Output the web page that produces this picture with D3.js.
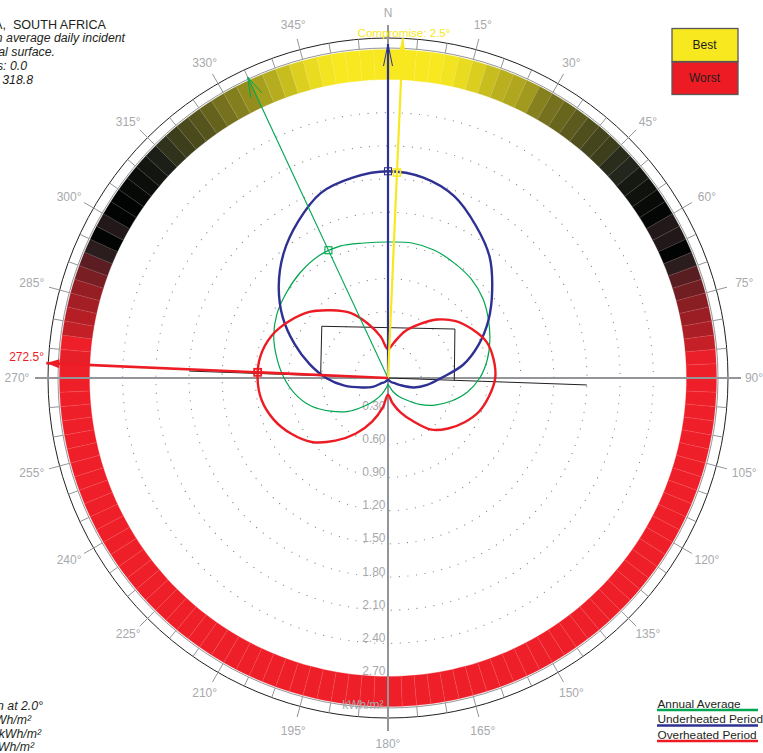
<!DOCTYPE html>
<html><head><meta charset="utf-8">
<script src="https://cdn.jsdelivr.net/npm/d3@7"></script>
<style>html,body{margin:0;padding:0;background:#fff;overflow:hidden}svg{display:block}text{font-family:"Liberation Sans",Arial,sans-serif;font-size:12px;white-space:pre}</style>
</head><body><div id="c"></div>
<script>
// Data (angles in compass degrees, radial values in kWh/m2)
const curveAngles = d3.range(0, 360, 10);
const annualAverage = [1.23,1.24,1.23,1.20,1.17,1.12,1.05,.98,.91,.83,.73,.61,.49,.37,.26,.19,.13,.08,.06,.09,.15,.23,.33,.47,.60,.74,.85,.94,1.02,1.10,1.16,1.20,1.24,1.27,1.27,1.24];
const underheated = [1.87,1.84,1.75,1.59,1.43,1.23,1.05,.87,.69,.48,.36,.25,.13,.07,.05,.03,.02,.02,.02,.02,.02,.03,.05,.07,.16,.25,.40,.56,.72,.90,1.10,1.29,1.47,1.63,1.78,1.84];
const overheated = [.26,.33,.45,.56,.69,.80,.88,.95,.97,.97,.93,.88,.80,.71,.61,.45,.33,.23,.15,.27,.42,.58,.74,.90,1.01,1.10,1.16,1.18,1.17,1.12,1.03,.93,.80,.68,.52,.38];
// Relative score per 2.5 degree sector: 1 best, 0 worst
const bandScores = [
1,1,1,1,.99,.97,.94,.90,.87,.85,.82,.76,.724,.696,.67,.643,.622,.605,.567,.55,.53,.52,.51,.503,.46,.46,.5,.45,.35,.29,.235,.195,.155,.097,
.01,0,0,0,0,0,0,0,0,0,0,0,0,0,0,0,0,0,0,0,0,0,0,0,0,0,0,0,0,0,0,0,0,0,0,0,0,0,0,0,0,
0,0,0,0,0,0,0,0,0,0,0,0,0,0,0,0,0,0,0,0,0,0,0,0,0,0,0,0,0,0,0,0,0,0,
.02,0,.1,.13,.175,.21,.27,.34,.45,.5,.46,.5,.5,.507,.515,.525,.54,.577,.605,.633,.656,.69,.724,.754,.79,.83,.86,.9,.943,.97,.99,1,1,1,1];
const radialTicks = [.30,.60,.90,1.20,1.50,1.80,2.10,2.40,2.70];
const compassTicks = d3.range(0, 360, 5);
const compassLabels = d3.range(15, 360, 15);
const headings = [
  {name:"best", angle:2.5, value:1.86},
  {name:"under", angle:0, value:1.87},
  {name:"annual", angle:335, value:1.275},
  {name:"over", angle:272.5, value:1.18}
];
// Building outline as [compass angle, value]
const buildingOutline = [[308,.76],[53.8,.75],[92,.60]];
const buildingLeft = [[308,.76],[273.4,.61]];
const buildingAxis = [[272,1.80],[92,1.80]];
const infoTop = ["PRETORIA,  SOUTH AFRICA","Orientation based on average daily incident","radiation on a vertical surface.","Shadows: 0.0","Value: 318.8"];
const infoTopRight = [106,125,55,27,33];
const infoBottom = ["Orientation at 2.0°","kWh/m²","kWh/m²","kWh/m²"];
const infoBottomRight = [43,31,41,34];
const legendLines = ["Annual Average","Underheated Period","Overheated Period"];

const W=763,H=753,cx=388,cy=378;
const GREEN="#00a651",BLUE="#2e3192",RED="#ed1c24",YELLOW="#f7e820",GRAY="#939598",LABEL="#a7a9ac",INK="#231f20";
const R_OUT=340,R_GRAY=330,R_BAND_O=328.5,R_BAND_I=298.5;
const r=d3.scaleLinear().domain([0,2.7]).range([0,298.5]);
const rad=d=>d*Math.PI/180;
const bandColor=d3.scaleLinear().domain([0,.45,.5,.55,1]).range(["#ef1f29","#2b1d1e","#020403","#23261c","#f7e820"]);
const pt=(a,v)=>d3.pointRadial(rad(a),v);

const svg=d3.select("#c").append("svg").attr("width",W).attr("height",H).attr("viewBox",`0 0 ${W} ${H}`);
svg.append("rect").attr("width",W).attr("height",H).attr("fill","#fff");
const g=svg.append("g").attr("transform",`translate(${cx},${cy})`);

// Sector band
const arc=d3.arc().innerRadius(R_BAND_I).outerRadius(R_BAND_O);
g.append("g").selectAll("path").data(bandScores).join("path")
 .attr("d",(d,i)=>arc({startAngle:rad(i*2.5),endAngle:rad((i+1)*2.5)}))
 .attr("fill",d=>bandColor(d)).attr("stroke",d=>bandColor(d)).attr("stroke-width",.3);
g.append("g").selectAll("line").data(bandScores).join("line")
 .each(function(d,i){const a=pt(i*2.5,R_BAND_I),b=pt(i*2.5,R_BAND_O);
   d3.select(this).attr("x1",a[0]).attr("y1",a[1]).attr("x2",b[0]).attr("y2",b[1]);})
 .attr("stroke","#fff").attr("stroke-opacity",.16).attr("stroke-width",.7);

// Rings
g.append("circle").attr("r",R_OUT).attr("fill","none").attr("stroke",INK).attr("stroke-width",1);
g.append("circle").attr("r",R_GRAY).attr("fill","none").attr("stroke",GRAY).attr("stroke-width",1);
g.append("g").selectAll("circle").data(radialTicks.slice(0,-1)).join("circle")
 .attr("r",d=>r(d)).attr("fill","none").attr("stroke","#808285").attr("stroke-width",1.15).attr("stroke-linecap","round").attr("stroke-dasharray","0.1 8.5");

// Ticks
g.append("g").selectAll("line").data(compassTicks.filter(d=>d%90!==0)).join("line")
 .each(function(d){const major=d%15===0;const a=pt(d,R_GRAY),b=pt(d,major?351:R_OUT);
   d3.select(this).attr("x1",a[0]).attr("y1",a[1]).attr("x2",b[0]).attr("y2",b[1]);})
 .attr("stroke",GRAY).attr("stroke-width",1);
// Main axes
g.append("line").attr("x1",-353).attr("x2",353).attr("stroke",GRAY).attr("stroke-width",2);
g.append("line").attr("y1",-353).attr("y2",353).attr("stroke",GRAY).attr("stroke-width",2);

// Compass labels: pushed slightly toward the horizontal on the diagonals
const labelPos=d=>{
  const a=rad(d),s=Math.sin(2*a);
  const p=pt(d,d===90?366:d===270?371:366+3*Math.sin(a)*Math.sin(a));
  return [p[0],p[1]+(Math.cos(a)>0?1:-1)*3.5*s*s];
};
g.append("g").selectAll("text").data(compassLabels).join("text")
 .attr("x",d=>labelPos(d)[0]).attr("y",d=>labelPos(d)[1])
 .attr("text-anchor","middle").attr("dominant-baseline","central").attr("fill",LABEL).text(d=>d+"°");
g.append("text").attr("x",0).attr("y",-365).attr("text-anchor","middle").attr("dominant-baseline","central").attr("fill",LABEL).text("N");

// Radial labels
g.append("g").selectAll("text").data(radialTicks).join("text")
 .attr("x",-2.5).attr("y",d=>r(d)-5.5).attr("text-anchor","end").attr("dominant-baseline","central")
 .attr("fill",LABEL).text(d=>d.toFixed(2));
g.append("text").attr("x",-4.5).attr("y",327).attr("text-anchor","end").attr("dominant-baseline","central").attr("fill",LABEL).text("kWh/m²");

// Building
const polar=d3.line().x(d=>pt(d[0],r(d[1]))[0]).y(d=>pt(d[0],r(d[1]))[1]);
[buildingOutline,buildingLeft,buildingAxis].forEach(p=>g.append("path").attr("d",polar(p)).attr("fill","none").attr("stroke",INK).attr("stroke-width",1));

// Curves
const radial=d3.lineRadial().angle((d,i)=>rad(curveAngles[i])).radius(d=>r(d)).curve(d3.curveCatmullRomClosed.alpha(.5));
[[annualAverage,GREEN,1.2],[underheated,BLUE,2.4],[overheated,RED,2.4]].forEach(([s,c,w])=>
  g.append("path").attr("d",radial(s)).attr("fill","none").attr("stroke",c).attr("stroke-width",w).attr("stroke-linejoin","round"));

// Heading arrows
function heading(h,color,width,tipR,head,mw){
  const [mx,my]=pt(h.angle,r(h.value));
  const tip=pt(h.angle,tipR);
  g.append("line").attr("x2",tip[0]).attr("y2",tip[1]).attr("stroke",color).attr("stroke-width",width);
  const wing=(len,off)=>{const b=pt(h.angle,tipR-len),n=[Math.cos(rad(h.angle)),Math.sin(rad(h.angle))];return [b[0]+n[0]*off,b[1]+n[1]*off];};
  if(head.filled){
    g.append("path").attr("d",d3.line()([tip,wing(head.len,head.half),wing(head.len,-head.half)])+"Z").attr("fill",color);
  }else{
    g.append("path").attr("d",d3.line()([wing(head.len,head.half),tip,wing(head.len,-head.half)])).attr("fill","none").attr("stroke",color).attr("stroke-width",Math.min(width,1));
  }
  g.append("rect").attr("x",mx-3.5).attr("y",my-3.5).attr("width",7).attr("height",7).attr("fill","none").attr("stroke",color).attr("stroke-width",mw);
}
heading(headings[2],GREEN,1.1,332,{len:20,half:6},1.1);
heading(headings[1],BLUE,2.2,334,{len:22,half:4.5},1.1);
heading(headings[0],YELLOW,2.2,340,{filled:true,len:14,half:3.5},1.6);
heading(headings[3],RED,2.6,342,{filled:true,len:13,half:4.5},1.8);

// Heading labels
svg.append("text").attr("x",404).attr("y",32).attr("text-anchor","middle").attr("dominant-baseline","central").attr("fill",YELLOW).style("font-size","11.6px").text("Compromise: 2.5°");
svg.append("text").attr("x",44).attr("y",357).attr("text-anchor","end").attr("dominant-baseline","central").attr("fill",RED).text("272.5°");

// Best / worst key
[["Best",YELLOW,28.5,33],["Worst",RED,62,32.5]].forEach(([t,c,y,h])=>{
  svg.append("rect").attr("x",672).attr("y",y).attr("width",66).attr("height",h).attr("fill",c).attr("stroke","#58595b").attr("stroke-width",1.3);
  svg.append("text").attr("x",704.5).attr("y",y+h/2).attr("text-anchor","middle").attr("dominant-baseline","central").attr("fill",INK).text(t);
});

// Info text
infoTop.forEach((t,i)=>svg.append("text").attr("x",infoTopRight[i]).attr("y",28.5+i*13.8).attr("text-anchor","end").attr("fill",INK).attr("font-style",i?"italic":"normal").style("font-size",i?"12.3px":"12.6px").text(t));
infoBottom.forEach((t,i)=>svg.append("text").attr("x",infoBottomRight[i]).attr("y",710+i*13.8).attr("text-anchor","end").attr("fill",INK).attr("font-style","italic").style("font-size","12.3px").text(t));

// Series legend
[GREEN,BLUE,RED].forEach((c,i)=>{
  svg.append("text").attr("x",657.5).attr("y",708+i*15.3).attr("fill",INK).style("font-size","11.8px").text(legendLines[i]);
  svg.append("line").attr("x1",657).attr("x2",758).attr("y1",710+i*15.5).attr("y2",710+i*15.5).attr("stroke",c).attr("stroke-width",2.3);
});
</script></body></html>
